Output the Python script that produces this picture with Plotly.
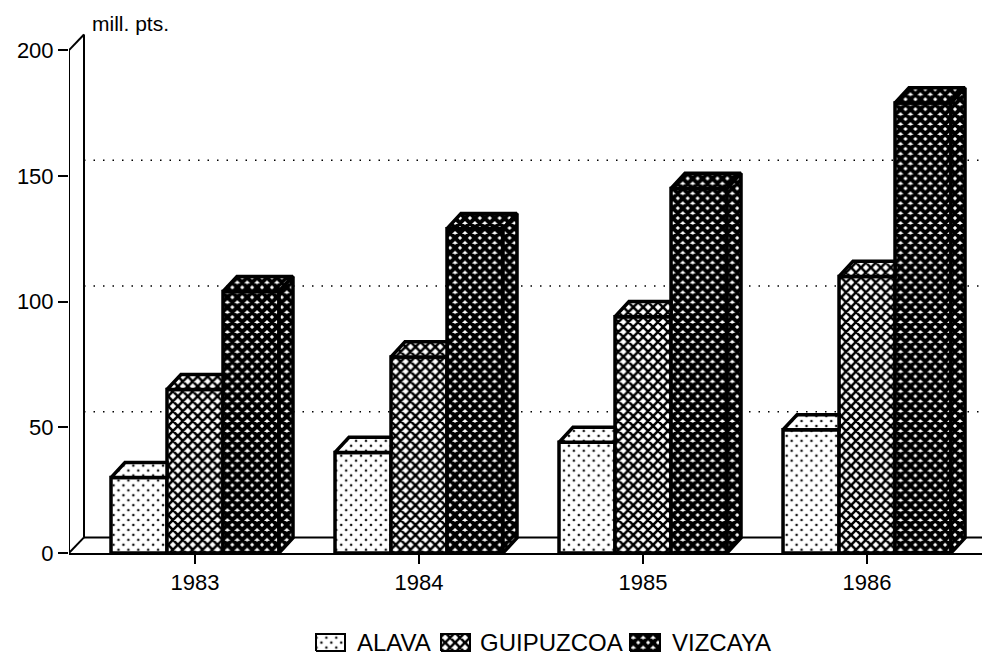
import plotly.graph_objects as go

years = ["1983", "1984", "1985", "1986"]
alava = [30, 40, 44, 49]
guipuzcoa = [65, 78, 94, 110]
vizcaya = [104, 129, 145, 179]
y_ticks = [0, 50, 100, 150, 200]

series = [
    ("ALAVA", alava, dict(shape="x", size=7, solidity=0.9, fgcolor="white", bgcolor="black", fgopacity=1)),
    ("GUIPUZCOA", guipuzcoa, dict(shape="x", size=7, solidity=0.6, fgcolor="black", bgcolor="white", fgopacity=1)),
    ("VIZCAYA", vizcaya, dict(shape="x", size=7, solidity=0.82, fgcolor="black", bgcolor="white", fgopacity=1)),
]
BAR_W = 0.25
DX, DY = 14 / 224, 6.0
BACK_DX, BACK_DY = 15 / 224, 6.2
X_LEFT, X_RIGHT = -0.5625, 3.549
OFFSET = 8                      # the page body margin shifts the figure
PX_L, PX_R, PX_T, PX_B = 69, 990, 30, 553
AREA_BOTTOM = 655 + OFFSET
Y_MAX = 208
AREA_H = AREA_BOTTOM - PX_T
main_bottom = (AREA_BOTTOM - PX_B) / AREA_H

def paper_x(p):
    return (p - PX_L) / (PX_R - PX_L)

def paper_y(p):
    return (AREA_BOTTOM - p) / AREA_H

fig = go.Figure()
idx = list(range(len(years)))

for name, vals, pat in series:
    fig.add_trace(go.Bar(
        name=name, x=idx, y=vals, width=BAR_W, showlegend=False,
        marker=dict(color="white", pattern=pat, line=dict(color="black", width=3.5)),
    ))

for s, (name, vals, pat) in enumerate(series):
    last = s == len(series) - 1
    for i, v in enumerate(vals):
        x0 = i - 0.375 + s * BAR_W
        x1 = x0 + BAR_W
        xs = [x0, x0 + DX, x1 + (DX if last else 0), x1, x0]
        ys = [v, v + DY, v + DY, v, v]
        fig.add_trace(go.Scatter(
            x=xs, y=ys, mode="lines", fill="toself", fillcolor="white",
            fillpattern=pat, line=dict(color="black", width=3.5),
            showlegend=False, hoverinfo="skip"))
        if last:
            fig.add_trace(go.Scatter(
                x=[x1, x1 + DX, x1 + DX, x1, x1], y=[0, DY, v + DY, v, 0],
                mode="lines", fill="toself", fillcolor="white",
                fillpattern=pat, line=dict(color="black", width=3.5),
                showlegend=False, hoverinfo="skip"))

# legend drawn on a hidden strip of axes: wide patterned swatches, text beside them
legend_px = [(316, 345, 357), (441, 470, 480), (630, 660, 672)]
for (name, vals, pat), (a, b, tx) in zip(series, legend_px):
    fig.add_trace(go.Scatter(
        x=[a, b, b, a, a], y=[651, 651, 634, 634, 651], mode="lines", fill="toself",
        fillcolor="white", fillpattern=pat, line=dict(color="black", width=2),
        xaxis="x2", yaxis="y2", showlegend=False, hoverinfo="skip"))
    fig.add_annotation(text=name, x=paper_x(tx), y=paper_y(642), xref="paper", yref="paper",
                       xanchor="left", yanchor="middle", xshift=-2, showarrow=False,
                       font=dict(size=24, color="black"))

blk = dict(color="black", width=2)
def seg(x0, y0, x1, y1, line):
    fig.add_shape(type="line", x0=x0, y0=y0, x1=x1, y1=y1, xref="x", yref="y",
                  layer="below", line=line)

seg(X_LEFT, 0, X_LEFT, 200, blk)
seg(X_LEFT + BACK_DX, BACK_DY, X_LEFT + BACK_DX, 200 + BACK_DY, blk)
seg(X_LEFT, 200, X_LEFT + BACK_DX, 200 + BACK_DY, blk)
seg(X_LEFT, 0, X_LEFT + BACK_DX, BACK_DY, blk)
seg(X_LEFT + BACK_DX, BACK_DY, X_RIGHT, BACK_DY, blk)
for t in y_ticks[1:-1]:
    seg(X_LEFT + BACK_DX, t + BACK_DY, X_RIGHT, t + BACK_DY,
        dict(color="black", width=1.5, dash="1.5px 8px"))

fig.add_annotation(text="mill. pts.", xref="paper", yref="paper",
                   x=paper_x(90), y=paper_y(24), xanchor="left", yanchor="middle",
                   showarrow=False, font=dict(size=21, color="black"))

fig.update_layout(
    width=990, height=655, autosize=False,
    margin=dict(l=PX_L - OFFSET, r=990 + OFFSET - PX_R, t=PX_T - OFFSET,
                b=0, autoexpand=False),
    paper_bgcolor="white", plot_bgcolor="white",
    font=dict(family="Liberation Sans, Arial, sans-serif", color="black"),
    barmode="group", bargap=0.25, bargroupgap=0, showlegend=False,
    xaxis=dict(range=[X_LEFT, X_RIGHT], tickmode="array", tickvals=idx, ticktext=years,
               ticks="outside", ticklen=9, tickwidth=2, tickcolor="black", automargin=False,
               showline=True, linecolor="black", linewidth=2, showgrid=False, zeroline=False,
               tickfont=dict(size=22), anchor="y"),
    yaxis=dict(range=[0, Y_MAX], tickmode="array", tickvals=y_ticks, automargin=False,
               domain=[main_bottom, 1], anchor="x",
               ticks="outside", ticklen=10, tickwidth=2, tickcolor="black",
               showline=False, showgrid=False, zeroline=False,
               tickfont=dict(size=22)),
    xaxis2=dict(range=[PX_L, PX_R], visible=False, anchor="y2", automargin=False),
    yaxis2=dict(range=[AREA_BOTTOM, AREA_BOTTOM - 60], domain=[0, 60 / AREA_H], visible=False,
                anchor="x2", automargin=False),
)
fig.write_html("out.html")
